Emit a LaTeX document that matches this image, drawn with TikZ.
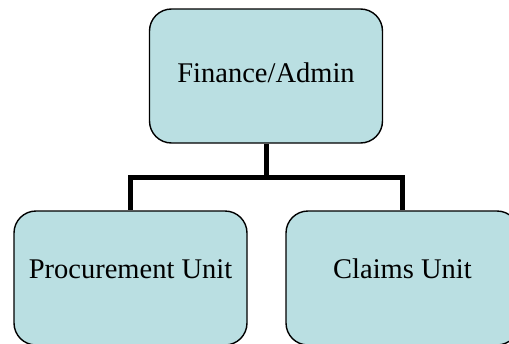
\documentclass[tikz,border=0pt]{standalone}
\usepackage{fontspec}
\setmainfont{Liberation Serif}
\definecolor{boxfill}{HTML}{BADFE2}
\begin{document}
\begin{tikzpicture}[x=1pt,y=-1pt,
  unitbox/.style={draw=black, line width=1.4pt, fill=boxfill, rounded corners=22pt,
    minimum width=233pt, minimum height=134pt, inner sep=0pt,
    font=\fontsize{28.5}{32}\selectfont},
  toptext/.style={text height=20pt, text depth=8pt},
  lowtext/.style={text height=10pt, text depth=10pt},
  link/.style={draw=black, line width=5pt}]
  \useasboundingbox (0,0) rectangle (509,343);
  \clip (0,0) rectangle (509,343);
  \node[unitbox, toptext] (fin) at (266,76) {Finance/Admin};
  \node[unitbox, lowtext] (proc) at (130.5,278) {Procurement Unit};
  \node[unitbox, lowtext] (claims) at (402.5,278) {Claims Unit};
  \coordinate (junction) at (266,177);
  \draw[link] (fin.south) -- (junction);
  \draw[link] ([xshift=-2.5pt]proc.north |- junction) -- ([xshift=2.5pt]claims.north |- junction);
  \draw[link] (proc.north |- junction) -- (proc.north);
  \draw[link] (claims.north |- junction) -- (claims.north);
\end{tikzpicture}
\end{document}
